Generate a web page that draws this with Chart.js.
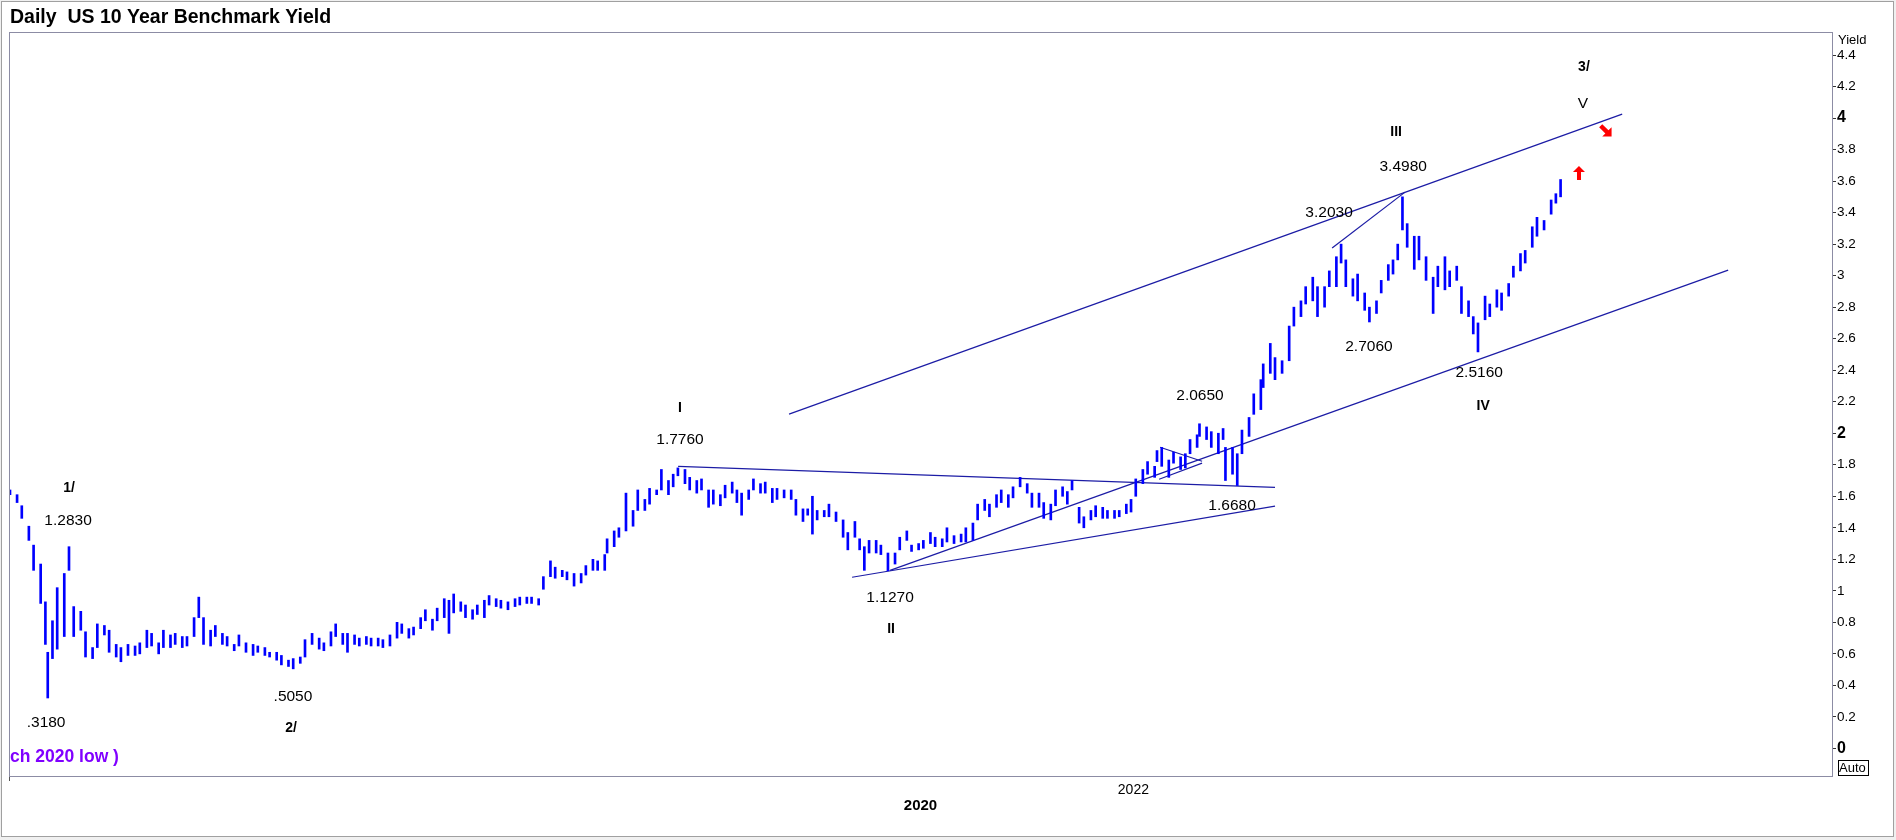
<!DOCTYPE html>
<html>
<head>
<meta charset="utf-8">
<title>Daily US 10 Year Benchmark Yield</title>
<script src="https://cdn.jsdelivr.net/npm/chart.js@4.4.0/dist/chart.umd.min.js"></script>
<style>
    html, body { margin: 0; padding: 0; background: #f0f0f0; }
    canvas { display: block; }
</style>
</head>
<body>
<canvas id="myChart" width="1896" height="840"></canvas>
<script>
// trading day index (0 = mid Feb 2020) and daily high / low yield
var days = [0, 3, 5, 8, 10, 13, 15, 16, 18, 20, 23, 25, 27, 30, 32, 35, 37, 40, 42, 45, 47, 50, 53, 55, 58, 60, 63, 65, 68, 70,
    73, 75, 78, 80, 82, 85, 87, 90, 92, 95, 97, 100, 103, 105, 108, 110, 113, 115, 118, 120, 123, 125, 128, 131, 133, 136, 138, 141, 143, 146,
    148, 151, 153, 156, 158, 161, 164, 166, 169, 171, 174, 176, 179, 181, 184, 186, 188, 191, 193, 196, 198, 201, 203, 206, 208, 211, 214, 216, 219, 221,
    224, 226, 229, 231, 234, 236, 239, 242, 244, 247, 249, 252, 253, 256, 258, 261, 264, 266, 269, 271, 274, 276, 279, 281, 283, 286, 288, 291, 293, 296,
    298, 301, 303, 306, 308, 310, 313, 315, 318, 320, 323, 325, 328, 331, 333, 336, 338, 340, 342, 345, 347, 350, 353, 355, 358, 360, 362, 364, 367, 369,
    372, 375, 377, 380, 382, 385, 387, 390, 392, 395, 397, 400, 403, 405, 408, 410, 413, 415, 418, 420, 423, 425, 428, 431, 433, 436, 438, 441, 443, 446,
    448, 450, 453, 455, 458, 460, 463, 465, 468, 470, 473, 475, 477, 480, 482, 485, 486, 488, 491, 493, 496, 498, 500, 503, 504, 507, 509, 512, 514, 515,
    518, 520, 522, 525, 527, 530, 531, 534, 536, 539, 542, 544, 547, 549, 552, 554, 557, 559, 562, 564, 566, 569, 571, 574, 576, 579, 581, 584, 586, 588,
    590, 592, 595, 597, 600, 603, 605, 608, 610, 613, 615, 618, 620, 622, 625, 627, 630, 632, 635, 637, 640, 642, 645, 647, 650, 653, 655, 657];

var highs = [1.64, 1.61, 1.54, 1.41, 1.29, 1.17, 0.93, 0.61, 0.81, 1.02, 1.11, 1.28, 0.90, 0.87, 0.74, 0.64, 0.79, 0.78, 0.75, 0.66, 0.64, 0.66, 0.65, 0.67, 0.75, 0.73, 0.67, 0.75, 0.72, 0.73,
    0.71, 0.71, 0.83, 0.96, 0.83, 0.75, 0.78, 0.73, 0.71, 0.66, 0.72, 0.67, 0.66, 0.65, 0.64, 0.61, 0.61, 0.59, 0.56, 0.57, 0.58, 0.69, 0.73, 0.70, 0.67, 0.74, 0.79, 0.73, 0.73, 0.72,
    0.70, 0.71, 0.70, 0.70, 0.69, 0.72, 0.80, 0.79, 0.76, 0.77, 0.83, 0.88, 0.82, 0.89, 0.95, 0.94, 0.98, 0.93, 0.91, 0.88, 0.91, 0.94, 0.97, 0.95, 0.94, 0.93, 0.95, 0.96, 0.96, 0.96,
    0.95, 1.09, 1.19, 1.15, 1.13, 1.12, 1.11, 1.11, 1.16, 1.20, 1.19, 1.23, 1.33, 1.38, 1.40, 1.62, 1.51, 1.64, 1.58, 1.65, 1.64, 1.77, 1.70, 1.74, 1.78, 1.77, 1.72, 1.70, 1.71, 1.64,
    1.64, 1.61, 1.67, 1.69, 1.64, 1.62, 1.64, 1.71, 1.68, 1.69, 1.65, 1.65, 1.64, 1.64, 1.58, 1.52, 1.52, 1.60, 1.51, 1.51, 1.55, 1.50, 1.45, 1.37, 1.44, 1.33, 1.28, 1.32, 1.32, 1.29,
    1.24, 1.24, 1.34, 1.38, 1.29, 1.30, 1.32, 1.37, 1.34, 1.33, 1.40, 1.35, 1.36, 1.40, 1.43, 1.55, 1.58, 1.55, 1.61, 1.64, 1.61, 1.66, 1.72, 1.68, 1.62, 1.62, 1.56, 1.55, 1.64, 1.66,
    1.63, 1.70, 1.53, 1.47, 1.51, 1.54, 1.53, 1.51, 1.51, 1.51, 1.55, 1.58, 1.71, 1.77, 1.82, 1.79, 1.89, 1.91, 1.83, 1.88, 1.85, 1.87, 1.96, 1.99, 2.06, 2.04, 2.01, 2.00, 2.03, 1.91,
    1.91, 1.87, 2.02, 2.10, 2.25, 2.34, 2.44, 2.57, 2.48, 2.46, 2.68, 2.80, 2.84, 2.93, 2.99, 2.93, 2.93, 3.03, 3.12, 3.20, 3.10, 2.98, 3.01, 2.89, 2.80, 2.84, 2.97, 3.07, 3.10, 3.20,
    3.50, 3.33, 3.25, 3.25, 3.12, 2.99, 3.06, 3.12, 3.03, 3.06, 2.93, 2.84, 2.74, 2.70, 2.87, 2.82, 2.91, 2.89, 2.95, 3.06, 3.14, 3.16, 3.31, 3.37, 3.35, 3.48, 3.52, 3.61];

var lows = [1.61, 1.56, 1.46, 1.32, 1.13, 0.92, 0.66, 0.32, 0.57, 0.63, 0.71, 1.13, 0.71, 0.75, 0.58, 0.57, 0.64, 0.72, 0.61, 0.58, 0.55, 0.59, 0.59, 0.60, 0.64, 0.65, 0.60, 0.64, 0.64, 0.66,
    0.64, 0.65, 0.71, 0.83, 0.66, 0.65, 0.71, 0.66, 0.65, 0.62, 0.65, 0.61, 0.59, 0.61, 0.59, 0.58, 0.56, 0.53, 0.52, 0.505, 0.54, 0.58, 0.66, 0.63, 0.62, 0.65, 0.71, 0.66, 0.61, 0.66,
    0.65, 0.66, 0.65, 0.65, 0.64, 0.65, 0.70, 0.73, 0.70, 0.72, 0.76, 0.81, 0.75, 0.81, 0.83, 0.73, 0.86, 0.87, 0.83, 0.82, 0.85, 0.83, 0.91, 0.90, 0.89, 0.88, 0.90, 0.91, 0.92, 0.92,
    0.91, 1.01, 1.09, 1.08, 1.09, 1.07, 1.03, 1.05, 1.10, 1.13, 1.13, 1.13, 1.24, 1.28, 1.34, 1.38, 1.41, 1.51, 1.51, 1.55, 1.61, 1.64, 1.61, 1.66, 1.73, 1.68, 1.64, 1.62, 1.64, 1.53,
    1.55, 1.54, 1.59, 1.62, 1.56, 1.48, 1.58, 1.64, 1.62, 1.62, 1.56, 1.58, 1.59, 1.58, 1.48, 1.44, 1.48, 1.36, 1.45, 1.47, 1.47, 1.44, 1.34, 1.26, 1.34, 1.26, 1.13, 1.24, 1.24, 1.23,
    1.127, 1.17, 1.26, 1.32, 1.25, 1.26, 1.27, 1.30, 1.28, 1.28, 1.31, 1.30, 1.31, 1.31, 1.32, 1.45, 1.51, 1.47, 1.53, 1.56, 1.53, 1.59, 1.66, 1.62, 1.53, 1.53, 1.46, 1.45, 1.54, 1.60,
    1.55, 1.64, 1.43, 1.40, 1.45, 1.47, 1.46, 1.46, 1.46, 1.47, 1.49, 1.50, 1.60, 1.68, 1.74, 1.72, 1.82, 1.79, 1.72, 1.81, 1.77, 1.78, 1.87, 1.91, 1.98, 1.96, 1.91, 1.87, 1.96, 1.70,
    1.74, 1.668, 1.87, 1.98, 2.12, 2.15, 2.29, 2.38, 2.34, 2.38, 2.46, 2.68, 2.74, 2.82, 2.84, 2.74, 2.80, 2.93, 2.93, 3.08, 2.93, 2.87, 2.84, 2.78, 2.706, 2.76, 2.89, 2.97, 3.01, 3.10,
    3.29, 3.18, 3.04, 3.10, 2.97, 2.76, 2.93, 2.91, 2.93, 2.97, 2.76, 2.74, 2.63, 2.516, 2.72, 2.74, 2.80, 2.78, 2.87, 2.99, 3.03, 3.08, 3.18, 3.25, 3.29, 3.39, 3.46, 3.50];

// trend lines, as [day, yield] end points
var channelTop = [[330.1, 2.121], [683.1, 4.025]];
var channelBottom = [[372.9, 1.130], [728.0, 3.035]];
var triangleTop = [[283.1, 1.790], [536.0, 1.657]];
var triangleBottom = [[356.8, 1.086], [536.0, 1.537]];
var waveThreeLine = [[560.2, 3.175], [591.1, 3.530]];
var flagTop = [[487.3, 1.911], [505.1, 1.822]];
var flagBottom = [[486.9, 1.708], [505.1, 1.810]];

// axes
var yTicks = [0, 0.2, 0.4, 0.6, 0.8, 1, 1.2, 1.4, 1.6, 1.8, 2, 2.2, 2.4, 2.6, 2.8, 3, 3.2, 3.4, 3.6, 3.8, 4, 4.2, 4.4];
var xTickDays = [476];
var xTickLabels = ['2022'];

// wave labels: text, day, yield, bold
var notes = [
    ['1/', 25.0, 1.651, true],
    ['1.2830', 24.6, 1.448, false],
    ['.3180', 15.3, 0.165, false],
    ['.5050', 119.9, 0.330, false],
    ['2/', 119.1, 0.127, true],
    ['I', 283.9, 2.159, true],
    ['1.7760', 283.9, 1.956, false],
    ['1.1270', 372.9, 0.959, false],
    ['II', 373.3, 0.756, true],
    ['2.0650', 504.2, 2.235, false],
    ['1.6680', 517.8, 1.537, false],
    ['3.2030', 558.9, 3.397, false],
    ['2.7060', 575.8, 2.552, false],
    ['3.4980', 590.3, 3.689, false],
    ['III', 587.3, 3.911, true],
    ['2.5160', 622.5, 2.381, false],
    ['IV', 624.2, 2.171, true],
    ['V', 666.5, 4.089, false],
    ['3/', 666.9, 4.324, true]
];
var arrowUp = [664.8, 3.651];
var arrowDown = [676.3, 3.917];

var FONT = '"Liberation Sans", Arial, sans-serif';
var LINE = 'rgb(28, 28, 165)';

function toPoints(arr) {
    return arr.map(function (p) { return {x: p[0], y: p[1]}; });
}

function trend(arr) {
    return {
        type: 'line',
        data: toPoints(arr),
        borderColor: LINE,
        borderWidth: 1.2,
        pointRadius: 0,
        fill: false
    };
}

function drawArrow(c, x, y, angle, s) {
    c.save();
    c.translate(x, y);
    c.rotate(angle);
    c.scale(s, s);
    c.beginPath();
    c.moveTo(0, -7);
    c.lineTo(6, -1);
    c.lineTo(2, -1);
    c.lineTo(2, 7);
    c.lineTo(-2, 7);
    c.lineTo(-2, -1);
    c.lineTo(-6, -1);
    c.closePath();
    c.fillStyle = '#ff0000';
    c.fill();
    c.restore();
}

var frame = {
    id: 'frame',
    beforeDraw: function (chart) {
        var c = chart.ctx;
        c.save();
        c.fillStyle = '#f0f0f0';
        c.fillRect(0, 0, chart.width, chart.height);
        c.fillStyle = '#ffffff';
        c.fillRect(2, 2, 1891, 834);
        c.strokeStyle = '#a0a0a0';
        c.lineWidth = 1;
        c.strokeRect(1.5, 1.5, 1892, 835);
        c.restore();
    },
    afterDraw: function (chart) {
        var c = chart.ctx, a = chart.chartArea;
        var xs = chart.scales.x, ys = chart.scales.y;
        c.save();
        c.strokeStyle = '#8c8ca4';
        c.lineWidth = 1;
        c.strokeRect(a.left + 0.5, a.top + 0.5, a.right - a.left, a.bottom - a.top);

        // title
        c.fillStyle = '#000';
        c.font = 'bold 19.5px ' + FONT;
        c.textAlign = 'left';
        c.textBaseline = 'alphabetic';
        c.fillText('Daily  US 10 Year Benchmark Yield', 10, 23);

        // axis captions
        c.font = '13px ' + FONT;
        c.textBaseline = 'middle';
        c.fillText('Yield', a.right + 6, 40);
        c.fillText('Auto', a.right + 7, 768);
        c.strokeStyle = '#000';
        c.strokeRect(a.right + 6.5, 760.5, 30, 15);

        // wave labels
        c.save();
        c.beginPath();
        c.rect(a.left, a.top, a.right - a.left, a.bottom - a.top);
        c.clip();
        c.textAlign = 'center';
        notes.forEach(function (n) {
            c.font = (n[3] ? 'bold 14px ' : '15.5px ') + FONT;
            c.fillStyle = '#000';
            c.fillText(n[0], xs.getPixelForValue(n[1]), ys.getPixelForValue(n[2]));
        });
        c.textAlign = 'left';
        c.font = 'bold 17.5px ' + FONT;
        c.fillStyle = '#8000ff';
        c.fillText('ch 2020 low )', a.left + 1, ys.getPixelForValue(-0.057));
        c.restore();

        drawArrow(c, xs.getPixelForValue(arrowUp[0]), ys.getPixelForValue(arrowUp[1]), 0, 1);
        drawArrow(c, xs.getPixelForValue(arrowDown[0]), ys.getPixelForValue(arrowDown[1]), Math.PI * 0.75, 1.1);
        c.restore();
    }
};

var ctx = document.getElementById('myChart').getContext('2d');
var chart = new Chart(ctx, {
    type: 'bar',
    data: {
        datasets: [{
            label: 'US 10Y',
            data: days.map(function (d, i) { return {x: d, y: [lows[i], highs[i]]}; }),
            backgroundColor: 'rgb(0, 0, 255)',
            borderWidth: 0,
            barThickness: 2,
            grouped: false
        },
        trend(channelTop),
        trend(channelBottom),
        trend(triangleTop),
        trend(triangleBottom),
        trend(waveThreeLine),
        trend(flagTop),
        trend(flagBottom)]
    },
    options: {
        responsive: false,
        animation: false,
        devicePixelRatio: 1,
        layout: {padding: {left: 9, top: 32, right: 0, bottom: 0}},
        plugins: {legend: {display: false}, tooltip: {enabled: false}},
        scales: {
            x: {
                type: 'linear',
                min: -0.42,
                max: 772,
                offset: false,
                afterBuildTicks: function (axis) {
                    axis.ticks = xTickDays.map(function (v) { return {value: v}; });
                },
                afterFit: function (axis) { axis.height = 64; },
                grid: {
                    drawOnChartArea: false,
                    drawTicks: true,
                    tickLength: 5,
                    color: function (c) {
                        return c.tick && xTickDays.indexOf(c.tick.value) >= 0 ? '#555' : 'rgba(0,0,0,0)';
                    }
                },
                border: {display: false},
                ticks: {
                    autoSkip: false,
                    maxRotation: 0,
                    padding: 1,
                    color: '#000',
                    font: {family: FONT, size: 14},
                    callback: function (v, i) { return xTickLabels[i]; }
                },
                title: {
                    display: true,
                    text: '2020',
                    color: '#000',
                    font: {family: FONT, size: 15, weight: 'bold'},
                    padding: {top: 0, bottom: 25}
                }
            },
            y: {
                position: 'right',
                min: -0.175,
                max: 4.546,
                afterBuildTicks: function (axis) {
                    axis.ticks = yTicks.map(function (v) { return {value: v}; });
                },
                afterFit: function (axis) { axis.width = 64; },
                grid: {drawOnChartArea: false, drawTicks: true, tickLength: 4, color: '#333'},
                border: {display: false},
                ticks: {
                    autoSkip: false,
                    padding: 1,
                    color: '#000',
                    font: function (c) {
                        var v = c.tick ? c.tick.value : 1;
                        return Math.abs(v - Math.round(v / 2) * 2) < 1e-6
                            ? {family: FONT, size: 16, weight: 'bold'}
                            : {family: FONT, size: 13.5};
                    },
                    callback: function (v) { return String(Math.round(v * 10) / 10); }
                }
            }
        }
    },
    plugins: [frame]
});
</script>
</body>
</html>
